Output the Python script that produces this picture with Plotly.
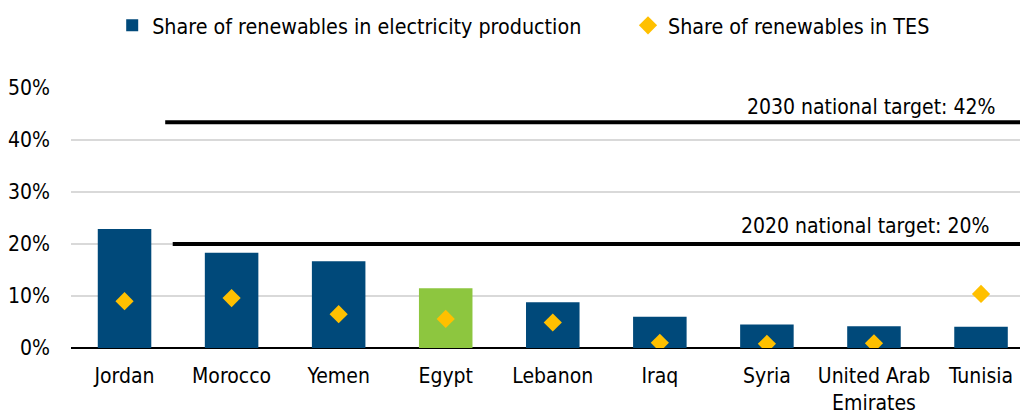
import plotly.graph_objects as go

countries = ["Jordan", "Morocco", "Yemen", "Egypt", "Lebanon", "Iraq", "Syria", "United Arab<br>Emirates", "Tunisia"]
elec_share = [22.9, 18.3, 16.7, 11.5, 8.8, 6.0, 4.5, 4.2, 4.1]
tes_share = [9.0, 9.6, 6.5, 5.6, 4.9, 1.0, 0.8, 0.9, 10.4]
target_2030 = 43.4
target_2020 = 20.0
yticks = [0, 10, 20, 30, 40, 50]
ytick_labels = ["0%", "10%", "20%", "30%", "40%", "50%"]

FONT = "DejaVu Sans Condensed"
BLUE = "#00497a"
GREEN = "#8dc63f"
GOLD = "#ffc000"

xs = list(range(len(countries)))
bar_colors = [GREEN if c == "Egypt" else BLUE for c in countries]

fig = go.Figure()
fig.add_trace(go.Bar(
    x=xs, y=elec_share, width=0.5, marker=dict(color=bar_colors, line=dict(width=0)),
    name="Share of renewables in electricity production", legend="legend",
))
fig.add_trace(go.Scatter(
    x=xs, y=tes_share, mode="markers",
    marker=dict(symbol="diamond", color=GOLD, size=14),
    name="Share of renewables in TES", legend="legend2",
))
fig.add_trace(go.Scatter(
    x=[0.38, 9], y=[target_2030, target_2030], mode="lines",
    line=dict(color="black", width=4), showlegend=False, hoverinfo="skip",
))
fig.add_trace(go.Scatter(
    x=[0.45, 9], y=[target_2020, target_2020], mode="lines",
    line=dict(color="black", width=4), showlegend=False, hoverinfo="skip",
))

fig.add_annotation(x=0.9758, xref="paper", y=46.3, yref="y", xanchor="right", yanchor="middle",
                   text="2030 national target: 42%", showarrow=False,
                   font=dict(family=FONT, size=21, color="black"))
fig.add_annotation(x=0.9694, xref="paper", y=23.5, yref="y", xanchor="right", yanchor="middle",
                   text="2020 national target: 20%", showarrow=False,
                   font=dict(family=FONT, size=21, color="black"))

legend_common = dict(orientation="h", xref="container", y=0.988, yref="container",
                     yanchor="top", xanchor="left", font=dict(family=FONT, size=21.3),
                     itemwidth=30, bgcolor="rgba(0,0,0,0)")

fig.update_layout(
    width=1020, height=414,
    margin=dict(l=71, r=0, t=88, b=66, autoexpand=False),
    paper_bgcolor="white", plot_bgcolor="white",
    font=dict(family=FONT, size=21, color="black"),
    showlegend=True,
    legend=dict(x=0.11, **legend_common),
    legend2=dict(x=0.6157, **legend_common),
    bargap=0.5,
)
fig.update_xaxes(
    range=[-0.5, 8.364], tickvals=xs, ticktext=countries, showgrid=False,
    zeroline=False, showline=False, ticks="", ticklabelstandoff=13, automargin=False,
)
fig.update_yaxes(
    range=[0, 50], tickvals=yticks, ticktext=ytick_labels, showgrid=True,
    gridcolor="#d9d9d9", gridwidth=2, zeroline=True, zerolinecolor="black",
    zerolinewidth=2, showline=False, ticks="", ticklabelstandoff=20, automargin=False,
)

fig.write_html("out.html")
